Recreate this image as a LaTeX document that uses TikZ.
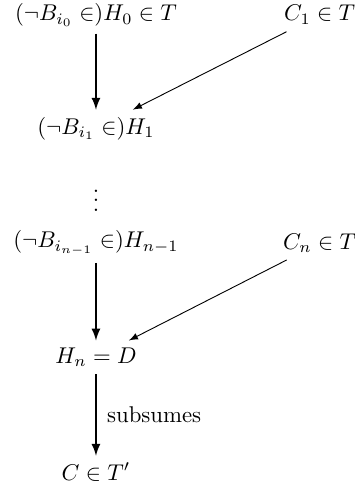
\documentclass[tikz,border=0pt]{standalone}
\usepackage{amsmath}
\usepackage{amssymb}

\begin{document}
\begin{tikzpicture}[
    every node/.style={inner sep=3pt},
    down/.style={-latex, line width=0.8pt},
    side/.style={-latex, line width=0.4pt}
]
\useasboundingbox (-1.48,-0.20) rectangle (3.99,7.28);

\node (h0) at (0,7.05) {$(\neg B_{i_0}\in)H_0\in T$};
\node (c1) at (3.45,7.05) {$C_1\in T$};
\node (h1) at (0,5.30) {$(\neg B_{i_1}\in)H_1$};
\node (dots) at (0,4.29) {$\vdots$};
\node (hn1) at (0,3.53) {$(\neg B_{i_{n-1}}\in)H_{n-1}$};
\node (cn) at (3.45,3.53) {$C_n\in T$};
\node (hn) at (0,1.77) {$H_n=D$};
\node (c) at (0,0) {$C\in T'$};

\draw[down] (h0) -- (h1);
\draw[side] (c1) -- (h1);
\draw[down] (hn1) -- (hn);
\draw[side] (cn) -- (hn);
\draw[down] (hn) -- node[right=1.5pt] {subsumes} (c);
\end{tikzpicture}
\end{document}
